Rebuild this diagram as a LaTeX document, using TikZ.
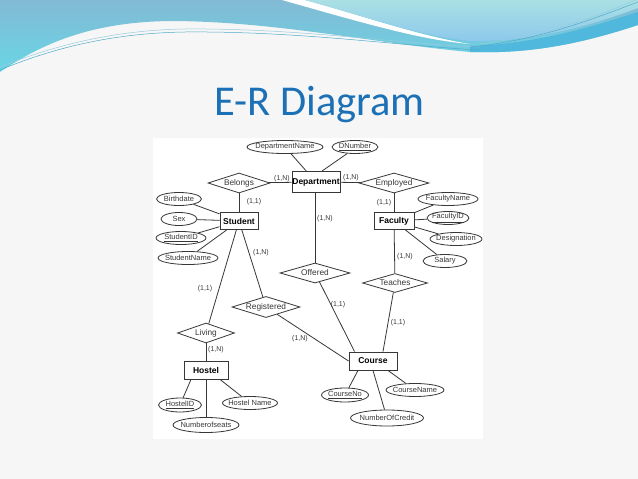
\documentclass[tikz,border=0pt]{standalone}
\usepackage{fontspec}
\setmainfont{Liberation Sans}
\newfontfamily\titlefont{Carlito}
\usetikzlibrary{shapes.geometric}
\definecolor{ink}{RGB}{55,55,55}
\definecolor{titleblue}{RGB}{28,112,182}
\definecolor{slidebg}{RGB}{246,246,246}
\definecolor{wavetop}{RGB}{130,186,212}
\definecolor{wavelow}{RGB}{104,214,230}
\definecolor{skytop}{RGB}{170,224,228}
\definecolor{skylow}{RGB}{140,200,236}
\definecolor{waveline}{RGB}{80,170,200}
\definecolor{waveband}{RGB}{80,184,220}
\tikzset{
    entity/.style={rectangle, draw=ink, line width=0.9pt, font=\fontsize{8.5}{9}\selectfont\bfseries,
        text=black, inner sep=0pt, minimum height=17pt},
    attr/.style={ellipse, draw=ink, line width=0.8pt, font=\fontsize{7.5}{8}\selectfont,
        text=ink, inner xsep=-8pt, inner ysep=0pt, minimum height=13pt},
    rel/.style={diamond, aspect=3, draw=ink, line width=0.8pt, font=\fontsize{8.3}{9}\selectfont,
        text=ink, inner sep=0pt, minimum height=20pt},
    card/.style={font=\fontsize{7}{7}\selectfont, text=ink, inner sep=0pt},
    every edge/.style={draw=ink, line width=0.8pt}
}

\begin{document}
\begin{tikzpicture}[x=1pt, y=-1pt]
    \useasboundingbox (0,0) rectangle (638,479);
    % slide and banner
    \fill[slidebg] (0,0) rectangle (638,479);
    \fill[white] (153,138) rectangle (483,439);
    \shade[top color=wavetop, bottom color=wavelow]
        (0,0) -- (638,0) -- (638,25) .. controls (580,44) and (530,54) .. (470,52)
        .. controls (380,44) and (280,22) .. (175,21)
        .. controls (90,21) and (40,45) .. (0,72) -- cycle;
    \fill[waveband] (470,46) .. controls (540,44) and (600,24) .. (638,12) -- (638,25)
        .. controls (580,44) and (530,54) .. (470,52) -- cycle;
    \fill[white] (282,0) .. controls (360,22) and (420,40) .. (470,44)
        .. controls (420,36) and (370,18) .. (305,0) -- cycle;
    \shade[top color=skytop, bottom color=skylow]
        (305,0) .. controls (370,18) and (420,36) .. (470,41)
        .. controls (540,42) and (600,22) .. (638,8) -- (638,0) -- cycle;
    \draw[waveline, line width=0.5pt] (0,70) .. controls (60,45) and (120,33) .. (185,32)
        .. controls (300,31) and (400,46) .. (480,50);
    \draw[waveline!60, line width=0.5pt] (0,67) .. controls (60,43) and (120,30) .. (185,29)
        .. controls (300,28) and (400,44) .. (480,47);
    \draw[waveline, line width=0.5pt] (470,47) .. controls (540,40) and (590,20) .. (638,2);
    \draw[waveline!60, line width=0.5pt] (480,44) .. controls (550,35) and (600,15) .. (638,-1);

    \node (title) [anchor=base, font=\titlefont\fontsize{42.5}{45}\selectfont, text=titleblue]
        at (319.5,115) {E-R Diagram};

    % entities and relationships
    \node (dept) [entity, minimum width=48pt, minimum height=21pt] at (316,182) {Department};
    \node (stu) [entity, minimum width=38pt] at (239,221) {Student};
    \node (fac) [entity, minimum width=40pt] at (394,221) {Faculty};
    \node (hos) [entity, minimum width=44pt, minimum height=18pt] at (206,370) {Hostel};
    \node (crs) [entity, minimum width=48pt, minimum height=18pt] at (373,361) {Course};

    \node (bel) [rel, minimum width=62pt] at (239,183) {Belongs};
    \node (emp) [rel, minimum width=70pt] at (394,183) {Employed};
    \node (off) [rel, minimum width=70pt] at (315,273) {Offered};
    \node (tea) [rel, minimum width=65pt, minimum height=19pt] at (395,283) {Teaches};
    \node (reg) [rel, minimum width=68pt] at (266,307) {Registered};
    \node (liv) [rel, minimum width=57pt] at (206,333) {Living};

    % attributes
    \node (dname) [attr, minimum width=76pt] at (285,147) {DepartmentName};
    \node (dnum) [attr, minimum width=46pt] at (355,147) {\underline{DNumber}};

    \node (bdate) [attr, minimum width=45pt] at (179,199) {Birthdate};
    \node (sex) [attr, minimum width=36pt] at (179,219) {Sex};
    \node (sid) [attr, minimum width=50pt] at (181,238) {\underline{StudentID}};
    \node (sname) [attr, minimum width=60pt] at (188,258) {StudentName};

    \node (fname) [attr, minimum width=60pt] at (448,199) {FacultyName};
    \node (fid) [attr, minimum width=42pt] at (448,218) {\underline{FacultyID}};
    \node (desig) [attr, minimum width=52pt] at (456,239) {Designation};
    \node (sal) [attr, minimum width=44pt] at (445,261) {Salary};

    \node (hid) [attr, minimum width=43pt, minimum height=14pt] at (180,405) {\underline{HostelID}};
    \node (hname) [attr, minimum width=55pt] at (250,403) {Hostel Name};
    \node (nseat) [attr, minimum width=66pt, minimum height=15pt] at (206,425) {Numberofseats};

    \node (cno) [attr, minimum width=47pt, minimum height=14pt] at (345,395) {\underline{CourseNo}};
    \node (cname) [attr, minimum width=58pt] at (415,390) {CourseName};
    \node (ncred) [attr, minimum width=73pt, minimum height=16pt] at (387,418) {NumberOfCredit};

    % cardinalities
    \node (c1) [card] at (282,179) {(1,N)};
    \node (c2) [card] at (351,178) {(1,N)};
    \node (c3) [card] at (254,202) {(1,1)};
    \node (c4) [card] at (384,203) {(1,1)};
    \node (c5) [card] at (325,219) {(1,N)};
    \node (c6) [card] at (405,257) {(1,N)};
    \node (c7) [card] at (261,253) {(1,N)};
    \node (c8) [card] at (205,289) {(1,1)};
    \node (c9) [card] at (216,350) {(1,N)};
    \node (c10) [card] at (300,339) {(1,N)};
    \node (c11) [card] at (338,305) {(1,1)};
    \node (c12) [card] at (398,323) {(1,1)};

    \draw (dname) edge (dept);
    \draw (dnum.220) edge ([xshift=6pt]dept.north);
    \draw (bel) edge (dept);
    \draw (dept) edge (emp);
    \draw (bel) edge (stu);
    \draw (emp) edge (fac);

    \draw (bdate) edge (stu);
    \draw (sex) edge (stu);
    \draw (sid) edge (stu);
    \draw (sname) edge (stu);

    \draw (fname) edge (fac);
    \draw (fid) edge (fac);
    \draw (desig) edge (fac);
    \draw (sal) edge (fac);

    \draw (off) edge (off |- dept.south);
    \draw (fac) edge (tea);
    \draw (stu) edge (liv);
    \draw (stu) edge (reg);
    \draw (liv) edge (hos);

    \draw ([xshift=-15pt]hos.south) edge (hid);
    \draw ([xshift=14pt]hos.south) edge (hname);
    \draw (hos) edge (nseat);

    \draw (off) edge ([xshift=6pt]crs.north west);
    \draw (reg) edge (crs.west);
    \draw (tea) edge ([xshift=10pt]crs.north);

    \draw ([xshift=-15pt]crs.south) edge (cno);
    \draw (crs.south) edge (ncred);
    \draw ([xshift=15pt]crs.south) edge (cname);
\end{tikzpicture}
\end{document}
